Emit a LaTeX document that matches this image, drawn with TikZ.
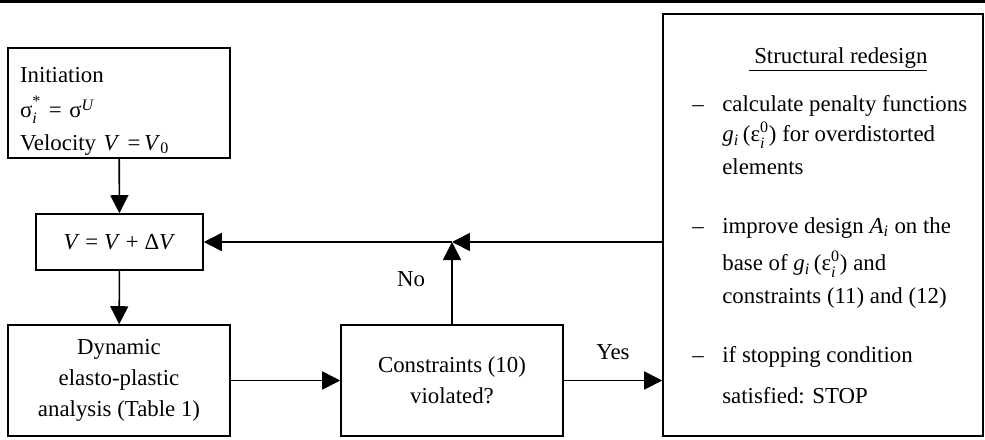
\documentclass[tikz,border=0pt]{standalone}
\usepackage{amsmath}
\usepackage{fontspec}
\setmainfont{Liberation Serif}
\usetikzlibrary{arrows.meta}

\begin{document}
\begin{tikzpicture}[x=0.02cm,y=-0.02cm,
        box/.style={draw,line width=0.9pt,inner sep=0pt},
        flow/.style={line width=0.9pt,-{Triangle[length=0.36cm,width=0.36cm]}},
        txt/.style={font=\fontsize{13}{17.5}\selectfont,inner sep=0pt}]
        \useasboundingbox (0,0) rectangle (985,440);
        \draw[line width=1.8pt] (0,1.5) -- (985,1.5);
        \node[box,txt,minimum width=4.44cm,minimum height=2.2cm,text width=3.96cm,inner xsep=0.24cm,align=left] (init) at (119,103) {\rule{0pt}{18pt}Initiation\\[2.5pt] σ$^{\raisebox{2pt}{$\scriptstyle\text{*}$}}_{\text{\itshape i}}$ = σ$^{\text{\itshape U}}$\\[1pt] Velocity \textit{V} =\,\textit{V}\textsubscript{0}};
        \node[box,txt,minimum width=3.34cm,minimum height=1.12cm] (vel) at (119.5,242) {\textit{V} = \textit{V} + Δ\textit{V}};
        \node[box,txt,minimum width=4.44cm,minimum height=2.22cm,align=center] (dyn) at (119,380.5) {Dynamic\\ elasto-plastic\\ analysis (Table 1)};
        \node[box,txt,minimum width=4.44cm,minimum height=2.22cm,align=center] (con) at (452,380.5) {Constraints (10)\\ violated?};
        \node[box,minimum width=6.4cm,minimum height=8.44cm] (red) at (823,225) {};
        \node[txt,anchor=base] (title) at (838,63) {\underline{\ Structural redesign}};
        \node[txt,anchor=base west] (steps) at (692,111) {\begin{tabular}[t]{@{}p{0.6cm}@{}l@{}}
                -- & calculate penalty functions\\
                & \textit{g}$_{\text{\itshape i}}$\,(ε$^{\raisebox{1pt}{$\scriptstyle\text{0}$}}_{\text{\itshape i}}$) for overdistorted\\[1pt]
                & elements\\[16pt]
                -- & improve design \textit{A}$_{\text{\itshape i}}$ on the\\[4pt]
                & base of \textit{g}$_{\text{\itshape i}}$\,(ε$^{\raisebox{1pt}{$\scriptstyle\text{0}$}}_{\text{\itshape i}}$) and\\[1pt]
                & constraints (11) and (12)\\[16pt]
                -- & if stopping condition\\[6pt]
                & satisfied: STOP
            \end{tabular}};
        \coordinate (join) at (con.north |- vel.east);
        \draw[flow] (init) -- (vel);
        \draw[flow] (vel) -- (dyn);
        \draw[flow] (dyn) -- (con);
        \draw[flow] (con) -- (join);
        \draw[flow] (red.west |- join) -- (join);
        \draw[flow] (join) -- (vel);
        \draw[flow] (con) -- (con.east -| red.west);
        \node[txt] (no) at (411,279) {No};
        \node[txt] (yes) at (613,352) {Yes};
    \end{tikzpicture}
\end{document}
